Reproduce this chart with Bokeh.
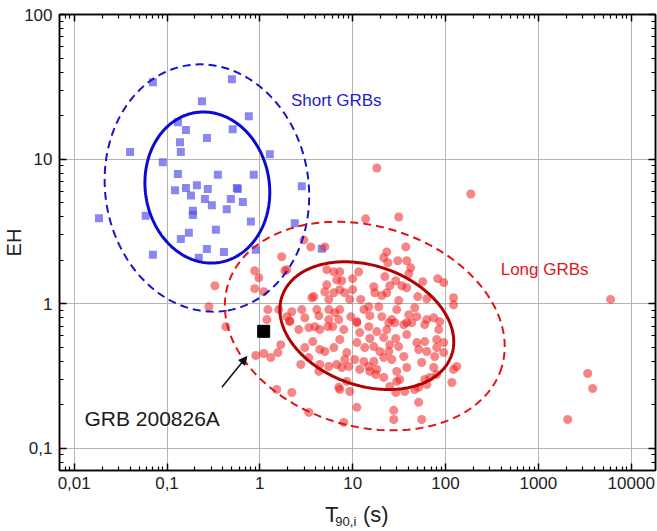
import numpy as np
from bokeh.plotting import figure
from bokeh.models import (FixedTicker, CustomJSTickFormatter, Label, Arrow,
                          NormalHead, LogAxis)
from bokeh.embed import file_html
from bokeh.resources import INLINE

# ---------------- data ----------------
short_T90 = [0.0705, 0.50, 0.238, 0.76, 0.131, 0.160, 0.51, 0.269, 0.138, 0.141,
             0.040, 0.090, 1.28, 0.131, 0.353, 0.86, 0.21, 0.16, 0.122, 0.275,
             0.565, 0.181, 0.487, 0.256, 0.656, 0.304, 0.44, 2.83, 0.19, 0.19,
             0.0185, 0.059, 0.80, 2.38, 0.336, 0.172, 0.141, 0.269, 0.41, 0.0705,
             0.22, 0.905, 4.65, 0.58]
short_EH = [34.0, 35.6, 25.1, 19.8, 18.0, 15.9, 16.1, 14.0, 13.1, 11.2,
            11.2, 9.5, 10.8, 7.9, 7.8, 7.8, 6.6, 6.3, 6.1, 6.2,
            6.3, 5.6, 5.3, 5.3, 5.05, 4.8, 4.5, 6.5, 4.4, 4.1,
            3.9, 4.05, 3.7, 3.6, 3.24, 3.09, 2.8, 2.39, 2.28, 2.18,
            2.08, 2.36, 2.4, 6.2]

long_T90 = [2.98, 3.54, 5.01, 1.72, 1.86, 0.88, 0.975, 0.328, 0.88, 1.10,
            0.283, 1.22, 1.60, 1.95, 2.21, 2.83, 3.05, 3.63, 3.81, 5.26,
            6.26, 6.74, 5.26, 5.01, 6.26, 7.26, 5.53, 4.11, 4.32, 5.53,
            6.41, 5.53, 7.08, 1.19, 2.10,
            13.8, 31.3, 23.3, 37.3, 21.6, 23.9, 30.6, 38.2, 42.2, 40.2,
            11.6, 7.26, 7.63, 10.0, 10.0, 16.9, 17.3, 22.2, 25.1, 29.1,
            33.8, 38.2, 23.3, 20.6, 50.2, 56.9, 62.8, 82.4, 95.6, 122,
            122, 9.30, 12.2, 13.2, 14.9, 7.26, 9.54, 15.3, 20.6, 31.3,
            29.8, 26.4, 40.2, 46.6, 49.0, 62.8, 74.6, 86.6, 19.1, 38.2,
            11.1, 8.22,
            0.43, 1.68, 0.905, 1.10, 1.31, 1.56, 2.76, 3.37, 1.52, 2.21,
            3.37, 2.10, 2.63, 3.37, 3.91, 4.42, 5.40, 6.1, 3.72, 4.42,
            5.01, 6.26, 3.05, 4.42, 5.53, 6.74, 4.32, 7.08,
            8.02, 7.26, 8.64, 11.1, 11.9, 14.9, 18.2, 23.3, 24.5, 28.4,
            35.5, 43.3, 59.7, 84.5, 38.2, 29.1, 21.6, 15.3, 11.1, 13.5,
            16.9, 19.6, 24.5, 25.1, 31.3, 49.0, 59.7, 80.4, 95.6, 80.4,
            62.8, 51.4, 95.6, 76.5, 35.5, 26.4, 21.6, 16.9, 13.2, 10.5,
            9.08, 7.63, 11.9, 14.9, 18.2, 17.7, 21.6, 29.8, 38.2, 55.4,
            29.8, 46.6, 51.4, 67.6, 80.4, 74.6, 122, 132, 117, 32.1,
            25.1, 36.4, 29.1, 51.4, 59.7, 62.8, 11.1, 27.7, 27.7, 55.4,
            8.02, 7.26, 9.30, 8.64, 15.3, 8.22,
            18.2, 187, 6000, 3400, 3840, 2070, 1.95]
long_EH = [2.76, 2.47, 2.47, 2.11, 1.69, 1.69, 1.51, 1.33, 1.27, 1.21,
           0.953, 0.91, 0.91, 0.813, 0.88, 0.91, 0.80, 1.10, 1.12, 1.72,
           1.66, 1.46, 1.35, 1.21, 1.19, 1.25, 1.07, 0.91, 0.826, 0.91,
           0.867, 0.776, 0.776, 0.776, 0.751,
           3.86, 3.98, 2.28, 2.47, 2.08, 1.92, 1.98, 1.98, 1.77, 1.61,
           1.66, 1.66, 1.44, 1.49, 1.25, 1.31, 1.19, 1.54, 1.33, 1.44,
           1.33, 1.29, 1.19, 1.14, 1.12, 1.42, 1.08, 1.49, 1.40, 1.10,
           0.984, 1.07, 1.07, 0.91, 0.953, 0.91, 0.813, 0.826, 0.813, 1.05,
           0.91, 0.776, 0.84, 0.938, 0.813, 0.776, 0.80, 0.751, 0.953, 0.739,
           0.751, 1.19,
           0.694, 0.521, 0.438, 0.452, 0.424, 0.459, 0.38, 0.424, 0.255, 0.243,
           0.177, 0.763, 0.662, 0.683, 0.694, 0.662, 0.694, 0.694, 0.547, 0.482,
           0.467, 0.497, 0.497, 0.38, 0.368, 0.38, 0.34, 0.264,
           0.662, 0.565, 0.459, 0.739, 0.631, 0.694, 0.641, 0.662, 0.739, 0.739,
           0.716, 0.739, 0.716, 0.662, 0.611, 0.574, 0.583, 0.574, 0.538, 0.497,
           0.505, 0.467, 0.467, 0.521, 0.505, 0.538, 0.547, 0.565, 0.538, 0.497,
           0.467, 0.482, 0.459, 0.431, 0.431, 0.411, 0.424, 0.398, 0.398, 0.411,
           0.368, 0.362, 0.351, 0.368, 0.351, 0.324, 0.309, 0.34, 0.362, 0.392,
           0.29, 0.255, 0.264, 0.309, 0.324, 0.362, 0.351, 0.368, 0.285, 0.299,
           0.268, 0.247, 0.243, 0.208, 0.299, 0.276, 0.192, 0.183, 0.158, 0.158,
           0.151, 0.255, 0.247, 0.29, 0.34, 0.411,
           8.67, 5.74, 1.07, 0.329, 0.259, 0.158, 1.72]

grb_T90 = [1.10]
grb_EH = [0.644]

# confidence ellipses in log10 space: center (T90, EH) and
# parametric coefficients (decades): lx = a*cos t + b*sin t, ly = c*cos t + d*sin t
short_1sigma = dict(center=(0.272, 6.36), coef=(0.129, -0.660, -0.518, -0.068))
short_2sigma = dict(center=(0.269, 6.31), coef=(0.212, -1.081, -0.848, -0.111))
long_1sigma = dict(center=(14.2, 0.705), coef=(0.911, -0.216, -0.207, -0.390))
long_2sigma = dict(center=(13.5, 0.70), coef=(1.475, -0.310, -0.284, -0.663))

x_decades = [0.01, 0.1, 1, 10, 100, 1000, 10000]
y_decades = [0.1, 1, 10, 100]

assert len(long_T90) == len(long_EH)
assert len(short_T90) == len(short_EH)

FONT = "Liberation Sans"
TXT = "#222222"


def ellipse(e, n=240):
    t = np.linspace(0, 2 * np.pi, n)
    a, b, c, d = e["coef"]
    lx = np.log10(e["center"][0]) + a * np.cos(t) + b * np.sin(t)
    ly = np.log10(e["center"][1]) + c * np.cos(t) + d * np.sin(t)
    return 10 ** lx, 10 ** ly


p = figure(width=657, height=531, x_axis_type="log", y_axis_type="log",
           x_range=(0.00695, 18270), y_range=(0.0702, 100),
           output_backend="svg", toolbar_location=None,
           min_border_left=58, min_border_right=2, min_border_top=14,
           min_border_bottom=60)
p.background_fill_color = "white"
p.border_fill_color = "white"
p.outline_line_color = "black"
p.outline_line_width = 1.5

minor_x = [k * 10.0 ** e for e in range(-3, 5) for k in range(2, 10)]
minor_y = [k * 10.0 ** e for e in range(-2, 3) for k in range(2, 10)]
xt = FixedTicker(ticks=x_decades, minor_ticks=minor_x)
yt = FixedTicker(ticks=y_decades, minor_ticks=minor_y)

fmt_code = """
const e = Math.round(Math.log10(tick));
if (e < 0) { return '0,' + '0'.repeat(-e - 1) + '1'; }
return '1' + '0'.repeat(e);
"""
blank_code = "return '';"


def style_axis(ax, ticker, labels=True):
    ax.ticker = ticker
    ax.axis_line_color = "black"
    ax.axis_line_width = 1.5
    ax.major_tick_line_color = "black"
    ax.minor_tick_line_color = "black"
    ax.major_tick_line_width = 1.5
    ax.minor_tick_line_width = 1.2
    ax.major_tick_in = 7
    ax.major_tick_out = 0
    ax.minor_tick_in = 4
    ax.minor_tick_out = 0
    if labels:
        ax.formatter = CustomJSTickFormatter(code=fmt_code)
        ax.major_label_text_font = FONT
        ax.major_label_text_font_size = "17px"
        ax.major_label_text_color = TXT
    else:
        ax.formatter = CustomJSTickFormatter(code=blank_code)
        ax.major_label_text_font_size = "1px"
        ax.major_label_standoff = 0


style_axis(p.xaxis[0], xt)
style_axis(p.yaxis[0], yt)
p.xaxis[0].major_label_standoff = 6
p.yaxis[0].major_label_standoff = 7

# y axis title
p.yaxis[0].axis_label = "EH"
p.yaxis[0].axis_label_standoff = -4
p.yaxis[0].axis_label_text_font = FONT
p.yaxis[0].axis_label_text_font_size = "20px"
p.yaxis[0].axis_label_text_font_style = "normal"
p.yaxis[0].axis_label_text_color = TXT

top_ax = LogAxis()
right_ax = LogAxis()
style_axis(top_ax, xt, labels=False)
style_axis(right_ax, yt, labels=False)
p.add_layout(top_ax, "above")
p.add_layout(right_ax, "right")


# x axis title "T_{90,i} (s)" built from label-only axes (real text, subscript)
def title_axis(ticks, code, size, standoff):
    ax = LogAxis(ticker=FixedTicker(ticks=ticks, minor_ticks=[]),
                 formatter=CustomJSTickFormatter(code=code))
    ax.axis_line_color = None
    ax.major_tick_line_color = None
    ax.minor_tick_line_color = None
    ax.major_tick_in = 0
    ax.major_tick_out = 0
    ax.minor_tick_in = 0
    ax.minor_tick_out = 0
    ax.major_label_text_font = FONT
    ax.major_label_text_font_size = size
    ax.major_label_text_color = TXT
    ax.major_label_standoff = standoff
    return ax


title_main = title_axis([5.96, 17.7], "return tick < 10 ? 'T' : '(s)';", "22px", 10)
title_sub = title_axis([8.43], "return '90,i';", "13px", -16)
p.add_layout(title_main, "below")
p.add_layout(title_sub, "below")

p.xgrid.ticker = xt
p.ygrid.ticker = yt
for g in (p.xgrid, p.ygrid):
    g.grid_line_color = "#b4b4b4"
    g.grid_line_width = 1

# points
p.scatter(short_T90, short_EH, marker="square", size=8,
          fill_color="#5050e8", fill_alpha=0.68, line_color=None)
p.scatter(long_T90, long_EH, marker="circle", size=9,
          fill_color="#f02020", fill_alpha=0.55, line_color=None)

# ellipses
bx, by = ellipse(short_2sigma)
p.line(bx, by, line_color="#1414cc", line_width=2, line_dash="8 5")
bx, by = ellipse(short_1sigma)
p.line(bx, by, line_color="#0a0ad2", line_width=3)
rx, ry = ellipse(long_2sigma)
p.line(rx, ry, line_color="#e01414", line_width=2, line_dash="8 5")
rx, ry = ellipse(long_1sigma)
p.line(rx, ry, line_color="#b00000", line_width=3)

# GRB 200826A
p.scatter(grb_T90, grb_EH, marker="square", size=12, fill_color="black",
          line_color="black")
p.add_layout(Arrow(end=NormalHead(size=8, fill_color="#111111", line_color="#111111"),
                   x_start=0.39, y_start=0.264, x_end=0.724, y_end=0.431,
                   line_color="#111111", line_width=1.5))
p.add_layout(Label(x=0.0129, y=0.161, text="GRB 200826A", text_font=FONT,
                   text_font_size="21px", text_color="#1a1a1a",
                   text_baseline="alphabetic"))
p.add_layout(Label(x=2.16, y=25.5, text="Short GRBs", text_font=FONT,
                   text_font_size="17px", text_color="#2222cc",
                   text_baseline="alphabetic"))
p.add_layout(Label(x=393, y=1.72, text="Long GRBs", text_font=FONT,
                   text_font_size="17px", text_color="#e01818",
                   text_baseline="alphabetic"))

open("out.html", "w").write(file_html(p, INLINE))
